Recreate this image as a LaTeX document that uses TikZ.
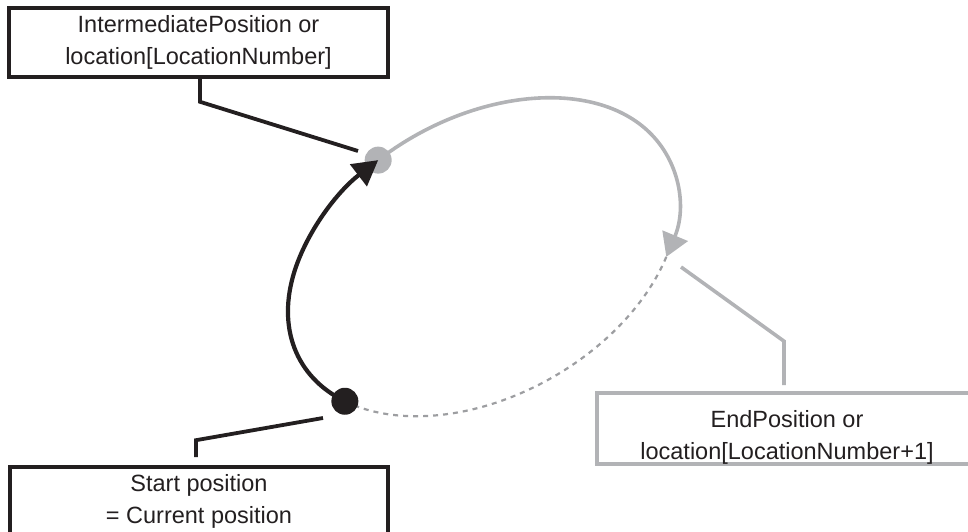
\documentclass[tikz,border=0pt]{standalone}
\usepackage{fontspec}
\setmainfont{Liberation Sans}
\usetikzlibrary{arrows.meta}
\definecolor{ink}{HTML}{231F20}
\definecolor{lgray}{HTML}{B2B3B6}
\definecolor{dgray}{HTML}{9D9EA1}
\begin{document}
\begin{tikzpicture}[x=1pt,y=1pt,
  boxstyle/.style={line width=3.6pt, minimum width=379pt, minimum height=69pt,
    inner sep=0pt, align=center, text=ink, font=\fontsize{23.5}{32}\selectfont},
  blackbox/.style={boxstyle, draw=ink},
  graybox/.style={boxstyle, draw=lgray},
  blackline/.style={draw=ink, line width=3.8pt},
  grayline/.style={draw=lgray, line width=3.6pt},
  dashline/.style={draw=dgray, line width=2.2pt, dash pattern=on 5pt off 5pt},
  dotstyle/.style={circle, inner sep=0pt, minimum size=27pt}
]
\useasboundingbox (0,0) rectangle (968,532);
\clip (0,0) rectangle (968,532);

% boxes
\node[blackbox] (TB) at (198.5,489.5) {IntermediatePosition or\\location[LocationNumber]};
\node[blackbox, minimum width=378pt] (SB) at (199,30.5) {Start position\\= Current position};
\node[graybox, minimum width=380pt, minimum height=71pt] (EB) at (787,103.5)
  {\rule{0pt}{34pt}EndPosition or\\location[LocationNumber+1]};

% connector end points
\coordinate (tc) at (358,381);
\coordinate (sc) at (323,114);
\coordinate (ec) at (681,265);

% trajectory (tilted ellipse)
\begin{scope}[shift={(483,275)}, rotate=29.6]
  \coordinate (pS) at (204.3:210pt and 139pt);
  \coordinate (pI) at (101.9:210pt and 139pt);
  \coordinate (pE) at (-40.6:210pt and 139pt);
  \draw[dashline] (pE) arc[start angle=-40.6, end angle=-155.7, x radius=210pt, y radius=139pt];
  \draw[grayline, -{Triangle[length=23pt,width=27pt]}] (pI)
    arc[start angle=101.9, end angle=-40.6, x radius=210pt, y radius=139pt];
  \node[dotstyle, fill=lgray] (I) at (pI) {};
  \draw[draw=ink, line width=4.2pt, -{Triangle[length=25pt,width=27pt]}] (pS)
    arc[start angle=204.3, end angle=101.9, x radius=210pt, y radius=139pt];
  \node[dotstyle, fill=ink] (S) at (pS) {};
\end{scope}

% connectors
\draw[blackline] ([xshift=1.5pt]TB.south) -- ++(0,-23) -- (tc);
\draw[blackline] ([xshift=-3pt,yshift=8pt]SB.north) -- ++(0,17) -- (sc);
\draw[grayline] ([xshift=-3pt,yshift=6pt]EB.north) -- ++(0,44) -- (ec);
\end{tikzpicture}
\end{document}
